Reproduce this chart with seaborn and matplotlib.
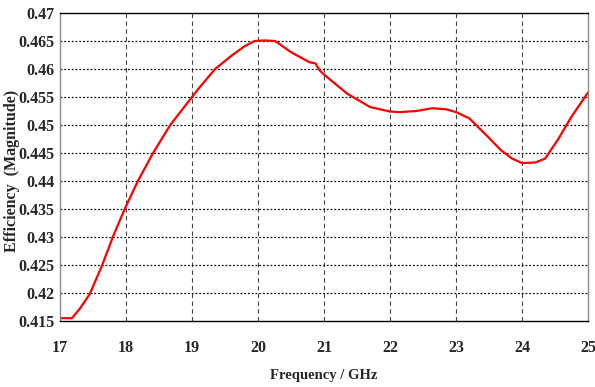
import matplotlib
matplotlib.use("Agg")
import matplotlib.pyplot as plt
import seaborn as sns
import pandas as pd

freq = [17.0, 17.18, 17.3, 17.45, 17.64, 17.8, 17.98, 18.18, 18.41, 18.67, 19.0,
        19.12, 19.35, 19.6, 19.8, 19.95, 20.1, 20.26, 20.5, 20.78, 20.87, 20.93,
        21.0, 21.35, 21.7, 22.0, 22.15, 22.4, 22.64, 22.85, 23.0, 23.2, 23.5,
        23.68, 23.85, 24.0, 24.2, 24.35, 24.55, 24.75, 25.0]
eff = [0.4155, 0.4155, 0.4172, 0.4198, 0.4250, 0.4300, 0.4350, 0.4400, 0.4450,
       0.4500, 0.4550, 0.4568, 0.4600, 0.4624, 0.4641, 0.4650, 0.4651, 0.4650,
       0.4630, 0.4612, 0.4610, 0.4598, 0.4590, 0.4556, 0.4532, 0.4524, 0.4523,
       0.4525, 0.4530, 0.4528, 0.4523, 0.4512, 0.4477, 0.4455, 0.4440, 0.4432,
       0.4433, 0.4440, 0.4475, 0.4515, 0.4558]
xticks = [17, 18, 19, 20, 21, 22, 23, 24, 25]
yticks = [0.415, 0.42, 0.425, 0.43, 0.435, 0.44, 0.445, 0.45, 0.455, 0.46, 0.465, 0.47]
ytick_labels = ["0.415", "0.42", "0.425", "0.43", "0.435", "0.44", "0.445",
                "0.45", "0.455", "0.46", "0.465", "0.47"]

sns.set_theme(style="white")
plt.rcParams['font.family'] = ['Liberation Serif', 'DejaVu Serif']

df = pd.DataFrame({"Frequency": freq, "Efficiency": eff})

fig = plt.figure(figsize=(5.95, 3.87), dpi=100)
ax = fig.add_axes([60/595, 1-321/387, (588-60)/595, (321-13)/387])

sns.lineplot(data=df, x="Frequency", y="Efficiency", ax=ax, color="#ff0000",
             linewidth=1.6)

ax.set_xlim(17, 25)
ax.set_ylim(0.415, 0.47)
ax.set_xticks(xticks)
ax.set_xticklabels([str(t) for t in xticks])
ax.set_yticks(yticks)
ax.set_yticklabels(ytick_labels)

for t in xticks[1:-1]:
    ax.axvline(t, color="#444444", linestyle=(0, (4, 3)), linewidth=0.8, zorder=0)
for t in yticks[1:-1]:
    ax.axhline(t, color="#111111", linestyle=(0, (1.5, 1.5)), linewidth=0.9, zorder=0)

for lbl in ax.get_xticklabels() + ax.get_yticklabels():
    lbl.set_fontweight("bold")
    lbl.set_fontsize(11.5)
ax.tick_params(axis="x", length=0, pad=14)
ax.tick_params(axis="y", length=0, pad=4)

ax.spines["top"].set_color("black")
ax.spines["bottom"].set_color("black")
ax.spines["left"].set_color("#888888")
ax.spines["right"].set_color("#888888")
for s in ax.spines.values():
    s.set_linewidth(1.0)

ax.set_xlabel("Frequency / GHz", fontsize=10.5, fontweight="bold", labelpad=9)
ax.set_ylabel("")
fig.text(12/595, 1-171/387, "Efficiency  (Magnitude)", rotation=90,
         ha="center", va="center", fontsize=11.5, fontweight="bold")

fig.savefig("out.png", dpi=100)
